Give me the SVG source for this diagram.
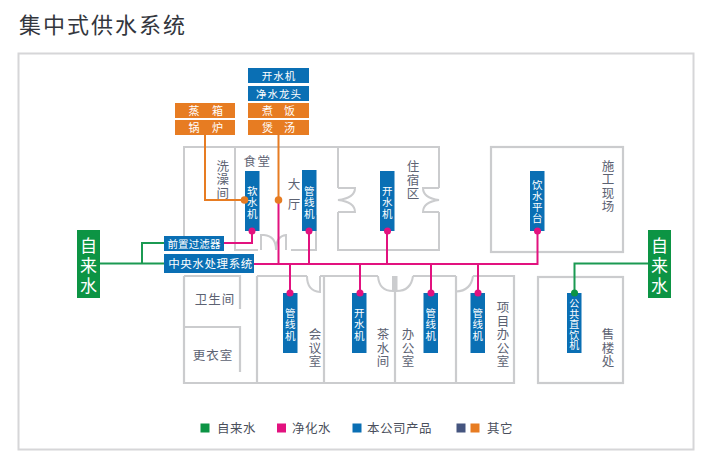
<svg xmlns="http://www.w3.org/2000/svg" width="716" height="467" viewBox="0 0 716 467">
<style>
text{font-family:"Noto Sans CJK SC","Noto Sans",sans-serif;text-anchor:middle}
.w{fill:none;stroke:#cbccce;stroke-width:2}
.w2{fill:none;stroke:#cbccce;stroke-width:2.200}
.t{fill:#5c6272;font-size:12.500px}
.l{fill:#fff;font-size:10.500px;letter-spacing:1px}
.s{fill:#fff;font-size:11px}
.v{fill:#fff;font-size:10.500px}
.b{fill:#0a6fb4}.o{fill:#e77c22}.g{fill:#0c9444}.p{fill:#e2127f}
.cp{fill:none;stroke:#e2127f;stroke-width:2}
.cg{fill:none;stroke:#1b9a52;stroke-width:2}
.co{fill:none;stroke:#e77c22;stroke-width:2}
.big{fill:#fff;font-size:17px}
.lg{fill:#4a4f5c;font-size:12.500px;text-anchor:start;letter-spacing:.5px}
</style>
<rect width="716" height="467" fill="#fff"/>
<text x="19" y="32.500" style="text-anchor:start;font-size:22px;fill:#33363d;letter-spacing:2px">集中式供水系统</text>
<rect x="18.500" y="53.500" width="675" height="396" fill="none" stroke="#d6d6d8" stroke-width="2"/>
<g id="floorplan">
<path class="w" d="M184 236V147H338M235 147V250H258M338 147V188M338 212V250H439V212M439 188V147H338M291 250H316V215"/>
<path class="w" d="M261 250V235H264Q276 236 276 250Q276 236 286 235V250"/>
<path class="w" d="M338 188H355Q355 198 338 200Q355 202 355 212H338M439 188H423Q423 198 439 200Q423 202 423 212H439"/>
<path class="w2" d="M184 276V383H514V276H473M184 276H240V309M184 327H240V372M257 276V383M324 276V383M395 276V383M456 276V383M257 276H307M320 276H378M413 276H456"/>
<path class="w" d="M307 276Q307 291 320 292V276M378 276Q379 291 393 291V276M396.500 276V291Q411 291 413 276M456 291.500Q471 291 473 276"/>
<rect class="w2" x="491" y="147" width="132" height="105"/>
<rect class="w2" x="538" y="277" width="85" height="106"/>
</g>
<g id="connectors">
<path class="cg" d="M99 263.500H164M142 263.500V243H164M648 263.500H574.500V293"/>
<path class="cp" d="M254 264H537.500V231M224 243H252V231M278.500 264V200M309 264V231M387 264V231M290 264V293M360 264V293M431 264V293M478 264V293"/>
<path class="co" d="M278.500 135V200M205 135V200H245"/>
</g>
<g id="n-tap-left"><rect class="g" x="77" y="230" width="23" height="68"/><text class="big" x="88.500 88.500 88.500" y="252 272 292">自来水</text></g>
<g id="n-tap-right"><rect class="g" x="648" y="230" width="23" height="68"/><text class="big" x="659.500 659.500 659.500" y="252 272 292">自来水</text></g>
<g id="n-filter"><rect class="b" x="164" y="236" width="60" height="15"/><text class="s" x="194" y="247.500" style="font-size:10.500px;letter-spacing:.1px">前置过滤器</text></g>
<g id="n-central"><rect class="b" x="164" y="254" width="90" height="19"/><text x="210.500" y="268" style="fill:#fff;font-size:11.500px;letter-spacing:.6px">中央水处理系统</text></g>
<g id="n-top"><rect class="b" x="248" y="68" width="61" height="15"/><text class="l" x="279" y="80">开水机</text>
<rect class="b" x="248" y="86" width="61" height="15"/><text class="l" x="279" y="97.500">净水龙头</text>
<rect class="o" x="248" y="103" width="61" height="15"/><text class="s" x="267.500 289.500" y="114.500">煮饭</text>
<rect class="o" x="248" y="120" width="61" height="15"/><text class="s" x="267.500 289.500" y="131.500">煲汤</text></g>
<g id="n-left-o"><rect class="o" x="175" y="103" width="60" height="15"/><text class="s" x="194 217.500" y="114.500">蒸箱</text>
<rect class="o" x="175" y="120" width="60" height="15"/><text class="s" x="194 217.500" y="131.500">锅炉</text></g>
<g id="n-softener"><rect class="b" x="245" y="171" width="14.500" height="60"/><text class="v" x="252.300 252.300 252.300" y="194.500 206 217.500">软水机</text></g>
<g id="n-pipe1"><rect class="b" x="302" y="170" width="14.500" height="61"/><text class="v" x="309.300 309.300 309.300" y="194.500 206 217.500">管线机</text></g>
<g id="n-boil1"><rect class="b" x="380" y="171" width="14.500" height="60"/><text class="v" x="387.300 387.300 387.300" y="194.500 206 217.500">开水机</text></g>
<g id="n-plat"><rect class="b" x="530" y="171" width="14.500" height="60"/><text class="v" x="537.300 537.300 537.300 537.300" y="189 200 211 222">饮水平台</text></g>
<g id="n-pipe2"><rect class="b" x="283" y="293" width="14.500" height="60"/><text class="v" x="290.300 290.300 290.300" y="316.500 328 339.500">管线机</text></g>
<g id="n-boil2"><rect class="b" x="352" y="293" width="14.500" height="60"/><text class="v" x="359.300 359.300 359.300" y="316.500 328 339.500">开水机</text></g>
<g id="n-pipe3"><rect class="b" x="423.500" y="293" width="14.500" height="60"/><text class="v" x="430.800 430.800 430.800" y="316.500 328 339.500">管线机</text></g>
<g id="n-pipe4"><rect class="b" x="470.500" y="293" width="14.500" height="60"/><text class="v" x="477.800 477.800 477.800" y="316.500 328 339.500">管线机</text></g>
<g id="n-direct"><rect class="b" x="567" y="293" width="14.500" height="60"/><text class="v" x="574.300 574.300 574.300 574.300 574.300" y="307 317.500 328 338.500 349" style="font-size:10px">公共直饮机</text></g>
<g id="dots">
<circle class="p" cx="252" cy="231" r="3.500"/><circle class="p" cx="309" cy="231" r="3.500"/><circle class="p" cx="387.500" cy="231" r="3.500"/><circle class="p" cx="537.500" cy="231" r="3.500"/>
<circle class="p" cx="290" cy="293" r="3.500"/><circle class="p" cx="360" cy="293" r="3.500"/><circle class="p" cx="431" cy="293" r="3.500"/><circle class="p" cx="478" cy="293" r="3.500"/>
<circle class="g" cx="574.500" cy="293" r="3.500"/><circle class="o" cx="244.500" cy="200" r="3.800"/><circle class="o" cx="278.500" cy="200" r="3.800"/>
</g>
<g id="labels">
<text class="t" x="222.700 222.700 222.700" y="170.500 184 197.500">洗澡间</text>
<text class="t" x="257.500" y="166" style="letter-spacing:1.500px">食堂</text>
<text class="t" x="294 294" y="189 209">大厅</text>
<text class="t" x="413 413 413" y="171 184.500 198">住宿区</text>
<text class="t" x="608 608 608 608" y="170.500 184 197.500 211">施工现场</text>
<text class="t" x="215" y="304" style="letter-spacing:1px">卫生间</text><text class="t" x="213" y="360" style="letter-spacing:1px">更衣室</text>
<text class="t" x="315 315 315" y="339 352.500 366">会议室</text>
<text class="t" x="383 383 383" y="339 352.500 366">茶水间</text>
<text class="t" x="408 408 408" y="339 352.500 366">办公室</text>
<text class="t" x="503 503 503 503 503" y="312 325.500 339 352.500 366">项目办公室</text>
<text class="t" x="608 608 608" y="339 352.500 366">售楼处</text>
</g>
<g id="legend">
<rect class="g" x="200.500" y="423.500" width="9" height="9"/><text class="lg" x="217" y="433">自来水</text>
<rect class="p" x="277" y="423.500" width="9" height="9"/><text class="lg" x="292" y="433">净化水</text>
<rect class="b" x="352.500" y="423.500" width="9" height="9"/><text class="lg" x="367" y="433">本公司产品</text>
<rect fill="#45557f" x="456.500" y="423.500" width="9" height="9"/><rect class="o" x="470.500" y="423.500" width="9" height="9"/><text class="lg" x="487" y="433">其它</text>
</g>
</svg>
